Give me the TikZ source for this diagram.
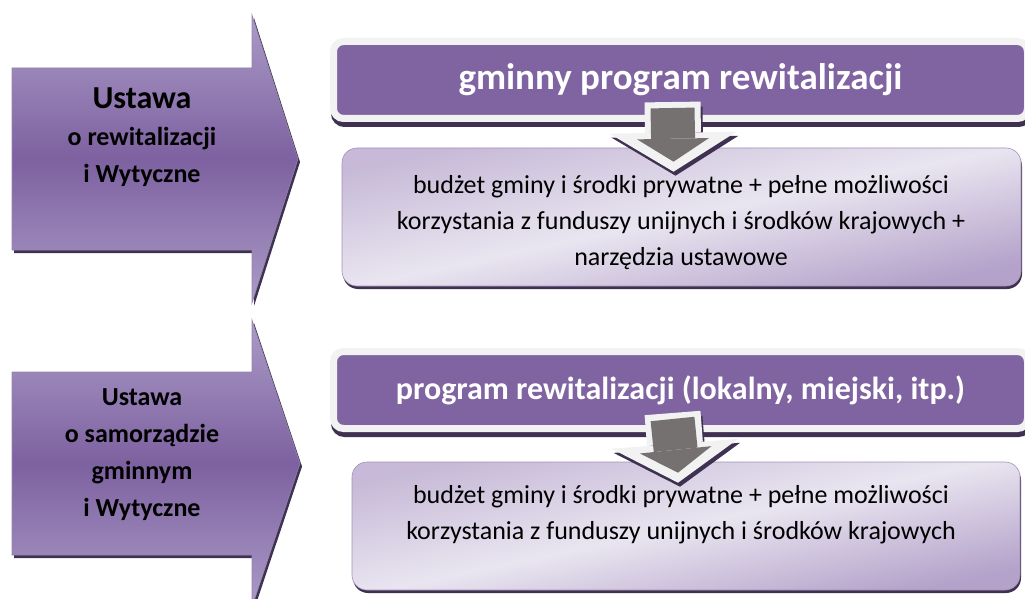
\documentclass[tikz,border=0pt]{standalone}
\usepackage{fontspec}
\setmainfont{Carlito}
\usetikzlibrary{arrows.meta,shadows}
\definecolor{lawlight}{RGB}{171,155,199}
\definecolor{lawdark}{RGB}{125,97,160}
\definecolor{plum}{RGB}{128,100,162}
\definecolor{plumshade}{RGB}{63,49,81}
\definecolor{frame}{RGB}{242,242,242}
\definecolor{mist}{RGB}{233,229,240}
\definecolor{lilac}{RGB}{180,162,202}
\definecolor{slate}{RGB}{118,113,113}

\begin{document}
\begin{tikzpicture}[x=1pt,y=-1pt,
  law/.style={top color=lawlight,bottom color=lawlight,middle color=lawdark,
    draw=lawlight!85!black,line width=0.6pt},
  lawshade/.style={fill=plumshade},
  lawtext/.style={font=\bfseries\fontsize{26}{37}\selectfont,align=center},
  banner/.style={draw=frame,line width=7pt,fill=plum,rounded corners=10pt,
    text=white,minimum width=694pt,minimum height=77pt,
    drop shadow={shadow xshift=1pt,shadow yshift=-5pt,fill=plumshade,
      draw=plumshade,line width=7pt,opacity=1}},
  budget/.style={draw=lilac!90!black,line width=0.6pt,rounded corners=15pt,
    top color=lilac!65!mist,bottom color=lilac,middle color=mist,shading angle=12,
    drop shadow={shadow xshift=1pt,shadow yshift=-3pt,fill=plumshade,opacity=1}},
  fundtext/.style={font=\fontsize{26}{36}\selectfont,align=center},
  flowshade/.style={draw=plumshade,line width=56pt,
    -{Triangle[width=127pt,length=39pt,line width=0pt]}},
  flowedge/.style={draw=frame,line width=56pt,
    -{Triangle[width=127pt,length=39pt,line width=0pt]}},
  flowcore/.style={draw=slate,line width=44pt,
    -{Triangle[width=72pt,length=23pt,line width=0pt]}}]
\useasboundingbox (0,0) rectangle (1025,599);

% left arrows
\path[lawshade,xshift=2pt,yshift=-3pt] (12,68) -- (252,68) -- (252,15) -- (298,159)
  -- (252,303) -- (252,250) -- (12,250) -- cycle;
\path[law] (12,68) -- (252,68) -- (252,15) -- (298,159)
  -- (252,303) -- (252,250) -- (12,250) -- cycle;
\node[lawtext] (law1) at (142,137)
  {{\fontsize{32}{37}\selectfont Ustawa}\\o rewitalizacji\\i Wytyczne};

\path[lawshade,xshift=2pt,yshift=-3pt] (12,372) -- (252,372) -- (252,320) -- (300,463.5)
  -- (252,607) -- (252,555) -- (12,555) -- cycle;
\path[law] (12,372) -- (252,372) -- (252,320) -- (300,463.5)
  -- (252,607) -- (252,555) -- (12,555) -- cycle;
\node[lawtext] (law2) at (142,455) {Ustawa\\o samorządzie\\gminnym\\i Wytyczne};

% upper row
\node[banner,font=\bfseries\fontsize{37}{44}\selectfont] (prog1) at (680.5,80)
  {gminny program rewitalizacji};
\node[budget,minimum width=679pt,minimum height=138pt] (fund1) at (681.5,217) {};
\draw[flowshade] ([xshift=-6pt,yshift=15pt]prog1.south) -- ([xshift=-6pt,yshift=-28pt]fund1.north);
\draw[flowedge] ([xshift=-8pt,yshift=20pt]prog1.south) -- ([xshift=-8pt,yshift=-24pt]fund1.north);
\draw[flowcore] ([xshift=-8pt,yshift=14pt]prog1.south) -- ([xshift=-8pt,yshift=-14pt]fund1.north);
\node[fundtext] (txt1) at (681,223) {budżet gminy i środki prywatne + pełne możliwości\\
  korzystania z funduszy unijnych i środków krajowych +\\narzędzia ustawowe};

% lower row
\node[banner,font=\bfseries\fontsize{32}{40}\selectfont] (prog2) at (680.5,390)
  {program rewitalizacji (lokalny, miejski, itp.)};
\node[budget,minimum width=668pt,minimum height=128pt] (fund2) at (686,526) {};
\draw[flowshade] ([xshift=-6pt,yshift=14pt]prog2.south) -- ([xshift=-6pt,yshift=-25pt]fund2.north);
\draw[flowedge] ([xshift=-8pt,yshift=19pt]prog2.south) -- ([xshift=-8pt,yshift=-21pt]fund2.north);
\draw[flowcore] ([xshift=-8pt,yshift=13pt]prog2.south) -- ([xshift=-8pt,yshift=-11pt]fund2.north);
\node[fundtext] (txt2) at (681,515) {budżet gminy i środki prywatne + pełne możliwości\\
  korzystania z funduszy unijnych i środków krajowych};
\end{tikzpicture}
\end{document}
